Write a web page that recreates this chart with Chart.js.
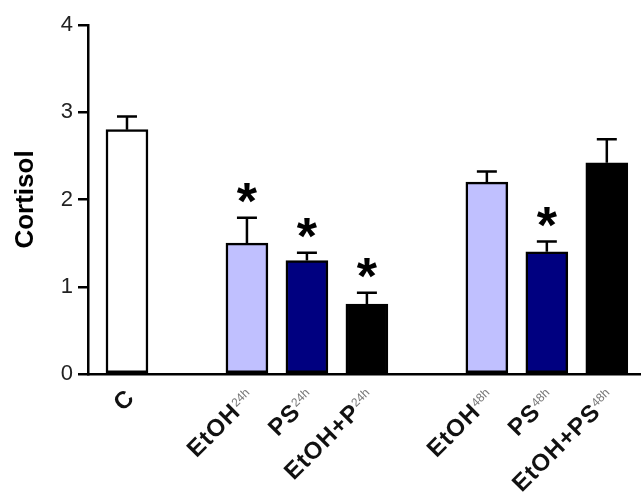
<!DOCTYPE html>
<html>
<head>
<meta charset="utf-8">
<script src="https://cdn.jsdelivr.net/npm/chart.js@4"></script>
<style>
  html, body { margin: 0; padding: 0; background: #fff; }
  #wrap { width: 641px; height: 501px; }
</style>
</head>
<body>
<div id="wrap"><canvas id="c"></canvas></div>
<script>
// groups, with empty slots as gaps between them
const labels = ['C', '', 'EtOH', 'PS', 'EtOH+P', '', 'EtOH', 'PS', 'EtOH+PS'];
const subLabels = ['', '', '24h', '24h', '24h', '', '48h', '48h', '48h'];
const cortisol = [2.8, null, 1.5, 1.3, 0.8, null, 2.2, 1.4, 2.42];
const sem = [0.15, null, 0.29, 0.09, 0.13, null, 0.12, 0.12, 0.27];
const significant = [false, false, true, true, true, false, false, true, false];
const colors = ['#ffffff', null, '#c0c0ff', '#000080', '#000000', null, '#c0c0ff', '#000080', '#000000'];
const yTicks = [0, 1, 2, 3, 4];

const points = [];
const fills = [];
cortisol.forEach((v, i) => {
  if (v === null) return;
  points.push({x: i, y: v, err: sem[i], star: significant[i]});
  fills.push(colors[i]);
});

const extras = {
  id: 'extras',
  afterDatasetsDraw(chart) {
    const ctx = chart.ctx;
    const xs = chart.scales.x, ys = chart.scales.y;
    ctx.save();
    ctx.strokeStyle = '#000';
    ctx.lineWidth = 2.5;
    ctx.fillStyle = '#000';
    points.forEach(p => {
      const x = xs.getPixelForValue(p.x);
      const top = ys.getPixelForValue(p.y);
      const errTop = ys.getPixelForValue(p.y + p.err);
      ctx.beginPath();
      ctx.moveTo(x, top);
      ctx.lineTo(x, errTop);
      ctx.moveTo(x - 10, errTop);
      ctx.lineTo(x + 10, errTop);
      ctx.stroke();
      if (p.star) {
        const size = 52;
        ctx.font = 'bold ' + size + 'px Arial';
        ctx.textAlign = 'center';
        ctx.textBaseline = 'alphabetic';
        ctx.fillText('*', x, errTop - 28 + 0.57 * size);
      }
    });
    // rotated category labels with small suffixes
    const y0 = ys.getPixelForValue(0);
    labels.forEach((lab, i) => {
      if (!lab) return;
      const x = xs.getPixelForValue(i);
      ctx.save();
      ctx.translate(x + 9, y0 + 25);
      ctx.rotate(-Math.PI / 4);
      const mainFont = 'bold 24px Arial';
      const subFont = '12px Arial';
      ctx.font = mainFont;
      ctx.letterSpacing = '1px';
      const wMain = ctx.measureText(lab).width;
      ctx.font = subFont;
      ctx.letterSpacing = '0px';
      const wSub = ctx.measureText(subLabels[i]).width;
      ctx.textAlign = 'left';
      ctx.textBaseline = 'alphabetic';
      ctx.font = mainFont;
      ctx.letterSpacing = '1px';
      ctx.fillStyle = '#111';
      ctx.fillText(lab, -(wMain + wSub), 0);
      ctx.font = subFont;
      ctx.letterSpacing = '0px';
      ctx.fillStyle = '#777';
      ctx.fillText(subLabels[i], -wSub, -8);
      ctx.restore();
    });
    ctx.restore();
  }
};

new Chart(document.getElementById('c'), {
  type: 'bar',
  data: {
    datasets: [{
      data: points,
      backgroundColor: fills,
      borderColor: '#000',
      borderWidth: 2.5,
      borderSkipped: false,
      barThickness: 42
    }]
  },
  options: {
    responsive: true,
    maintainAspectRatio: false,
    animation: false,
    layout: {padding: {top: 25, right: 0, left: 0, bottom: 0}},
    plugins: {legend: {display: false}, tooltip: {enabled: false}},
    scales: {
      x: {
        type: 'linear',
        offset: false,
        min: -0.65,
        max: 8.57,
        grid: {display: false},
        border: {color: '#000', width: 2.5},
        ticks: {display: false},
        afterFit: s => { s.height = 127; }
      },
      y: {
        min: 0,
        max: 4,
        afterBuildTicks: s => { s.ticks = yTicks.map(v => ({value: v})); },
        grid: {drawOnChartArea: false, drawTicks: true, tickLength: 10, color: '#000', lineWidth: 2.5},
        border: {color: '#000', width: 2.5},
        ticks: {color: '#222', font: {family: 'Arial', size: 22}, padding: 5},
        title: {display: true, text: 'Cortisol', color: '#000', font: {family: 'Arial', size: 26, weight: 'bold'}, padding: {top: 10}},
        afterFit: s => { s.width = 88; }
      }
    }
  },
  plugins: [extras]
});
</script>
</body>
</html>
